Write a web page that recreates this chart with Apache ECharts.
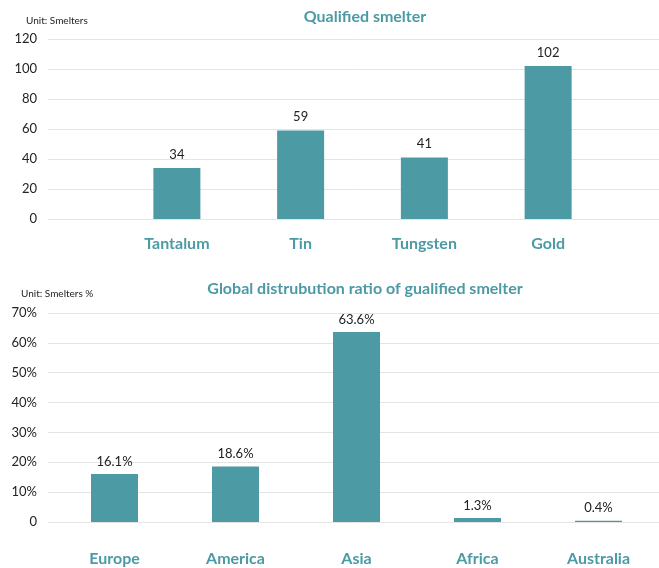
<!DOCTYPE html>
<html>
<head>
<meta charset="utf-8">
<script src="https://cdn.jsdelivr.net/npm/echarts@6/dist/echarts.min.js"></script>
<style>
  html, body { margin: 0; padding: 0; background: #fff; }
  #chart { width: 659px; height: 568px; }
</style>
</head>
<body>
<div id="chart"></div>
<script>
// Smelter counts by mineral
const metals = ['Tantalum', 'Tin', 'Tungsten', 'Gold'];
const smelterCounts = [34, 59, 41, 102];
const countTicks = [0, 20, 40, 60, 80, 100, 120];

// Share of qualified smelters by region (%)
const regions = ['Europe', 'America', 'Asia', 'Africa', 'Australia'];
const regionShares = [16.1, 18.6, 63.6, 1.3, 0.4];
const shareTicks = [0, 10, 20, 30, 40, 50, 60, 70];

const TEAL = '#4b9aa4';
const FONT = 'Lato, "Open Sans", sans-serif';

const chart = echarts.init(document.getElementById('chart'), null, { renderer: 'canvas' });

const hiddenX = (gridIndex, data) => ({
  type: 'category', gridIndex, data,
  show: false
});

const labelY = (gridIndex, ticks, fmt) => ({
  type: 'value', gridIndex,
  min: ticks[0], max: ticks[ticks.length - 1], interval: ticks[1] - ticks[0],
  axisLine: { show: false }, axisTick: { show: false },
  axisLabel: { color: '#222', fontSize: 13, fontFamily: FONT, margin: 11, formatter: fmt },
  splitLine: { lineStyle: { color: '#e4e4e4', width: 1 } }
});

const hiddenY = (gridIndex, ticks) => ({
  type: 'value', gridIndex,
  min: ticks[0], max: ticks[ticks.length - 1],
  show: false, splitLine: { show: false }
});

const barX = (gridIndex, data, margin) => ({
  type: 'category', gridIndex, data,
  axisLine: { show: false }, axisTick: { show: false },
  axisLabel: { color: TEAL, fontSize: 16, fontWeight: 'bold', fontFamily: FONT, margin }
});

chart.setOption({
  animation: false,
  title: [
    { text: 'Qualified smelter', left: 360, top: 4, textAlign: 'center',
      textStyle: { color: TEAL, fontSize: 16, fontWeight: 'bold', fontFamily: FONT } },
    { text: 'Unit: Smelters', left: 21, top: 11,
      textStyle: { color: '#222', fontSize: 10, fontWeight: 'normal', fontFamily: FONT } },
    { text: 'Global distrubution ratio of gualified smelter', left: 360, top: 276, textAlign: 'center',
      textStyle: { color: TEAL, fontSize: 16, fontWeight: 'bold', fontFamily: FONT } },
    { text: 'Unit: Smelters %', left: 16, top: 284,
      textStyle: { color: '#222', fontSize: 10, fontWeight: 'normal', fontFamily: FONT } }
  ],
  grid: [
    { left: 48, right: 0, top: 39, height: 180 },
    { left: 115, width: 495, top: 39, height: 180 },
    { left: 48, right: 0, top: 313, height: 209 },
    { left: 54, width: 612, top: 313, height: 209 }
  ],
  xAxis: [
    hiddenX(0, metals),
    barX(1, metals, 17),
    hiddenX(2, regions),
    barX(3, regions, 29)
  ],
  yAxis: [
    labelY(0, countTicks, '{value}'),
    hiddenY(1, countTicks),
    labelY(2, shareTicks, v => v === 0 ? '0' : v + '%'),
    hiddenY(3, shareTicks)
  ],
  series: [
    {
      type: 'bar', xAxisIndex: 1, yAxisIndex: 1, data: smelterCounts,
      barWidth: 47, itemStyle: { color: TEAL },
      label: { show: true, position: 'top', distance: 7, color: '#222', fontSize: 13, fontFamily: FONT }
    },
    {
      type: 'bar', xAxisIndex: 3, yAxisIndex: 3, data: regionShares,
      barWidth: 47, itemStyle: { color: TEAL },
      label: { show: true, position: 'top', distance: 6, color: '#222', fontSize: 13, fontFamily: FONT,
        formatter: p => p.value + '%' }
    }
  ]
});
</script>
</body>
</html>
